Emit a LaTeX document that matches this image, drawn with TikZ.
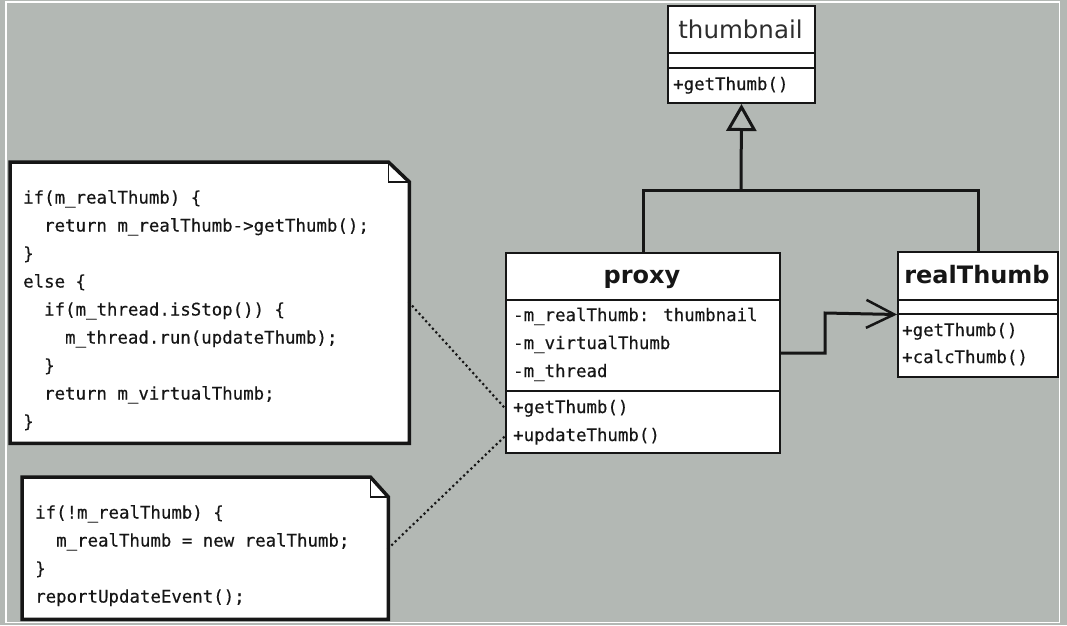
\documentclass[tikz,border=0pt]{standalone}
\usepackage{fontspec}
\setmainfont{DejaVu Sans}
\newfontfamily\codefont[FakeBold=0.35]{DejaVu Sans Mono}
\newfontfamily\titlefont{DejaVu Sans}
\usetikzlibrary{arrows.meta}
\definecolor{bg}{RGB}{179,184,180}
\definecolor{ink}{RGB}{22,22,22}
\newcommand{\cind}{\phantom{xx}}
\tikzset{
  classbox/.style={draw=ink, fill=white, line width=2pt, inner sep=0pt, anchor=north west},
  sepline/.style={draw=ink, line width=2pt},
  classtitle/.style={font=\titlefont\fontsize{24.5}{28}\selectfont, text=ink, inner sep=0pt, anchor=base},
  boldtitle/.style={classtitle, font=\titlefont\bfseries\fontsize{24}{28}\selectfont},
  code/.style={font=\codefont\fontsize{17.4}{28}\selectfont, text=ink, inner sep=0pt, align=left},
  conn/.style={draw=ink, line width=3pt},
  noteframe/.style={draw=ink, fill=white, line width=3.5pt, line join=miter},
  foldline/.style={draw=ink, line width=1.2pt},
  notebox/.style={inner sep=0pt, anchor=north west},
  dotline/.style={draw=ink, line width=3pt, line cap=round, dash pattern=on 0pt off 5pt},
}
\begin{document}
\begin{tikzpicture}[x=1pt,y=-1pt]
\fill[bg] (0,0) rectangle (1067,625);
\useasboundingbox (0,0) rectangle (1067,625);
\draw[white, line width=1.5pt] (6,2) rectangle (1059.5,622.5);

% ---------- thumbnail ----------
\node[classbox, minimum width=147, minimum height=97] (thumb) at (667,5) {};
\draw[sepline] (thumb.west |- 0,53) -- (thumb.east |- 0,53);
\draw[sepline] (thumb.west |- 0,68) -- (thumb.east |- 0,68);
\node[classtitle, text=ink!90] (thumbT) at (740.5,38) {thumbnail};
\node[code, anchor=base west] (thumbM1) at (673,90) {+getThumb()};

% ---------- proxy ----------
\node[classbox, minimum width=274, minimum height=200] (proxy) at (505,252) {};
\draw[sepline] (proxy.west |- 0,300) -- (proxy.east |- 0,300);
\draw[sepline] (proxy.west |- 0,391) -- (proxy.east |- 0,391);
\node[boldtitle] (proxyT) at (642,283) {proxy};
\node[code, anchor=base west] (pa1) at (513,321) {-m\_realThumb: thumbnail};
\node[code, anchor=base west] (pa2) at (513,349) {-m\_virtualThumb};
\node[code, anchor=base west] (pa3) at (513,377) {-m\_thread};
\node[code, anchor=base west] (pm1) at (513,413) {+getThumb()};
\node[code, anchor=base west] (pm2) at (513,441) {+updateThumb()};

% ---------- realThumb ----------
\node[classbox, minimum width=160, minimum height=125] (real) at (897,251) {};
\draw[sepline] (real.west |- 0,300) -- (real.east |- 0,300);
\draw[sepline] (real.west |- 0,314) -- (real.east |- 0,314);
\node[boldtitle] (realT) at (977,283) {realThumb};
\node[code, anchor=base west] (rm1) at (902,336) {+getThumb()};
\node[code, anchor=base west] (rm2) at (902,363) {+calcThumb()};

% ---------- generalisation ----------
\coordinate (join) at (741,190);
\draw[conn] (proxy.north) |- (join) -| (real.north);
\draw[conn, -{Triangle[open, length=27pt, width=30pt, line width=3pt]}] (join) -- (thumb.south);

% ---------- association ----------
\coordinate (bend) at (825,313);
\draw[conn, -{Straight Barb[length=28pt, width=28pt, line width=2.5pt]}] (proxy.east) -| (bend) -- (real.west);

% ---------- note 1 ----------
\node[notebox, minimum width=399, minimum height=281] (note1) at (10,162) {};
\draw[noteframe] (note1.north west) -- ([xshift=-21pt]note1.north east) -- ([yshift=-20pt]note1.north east) -- (note1.south east) -- (note1.south west) -- cycle;
\draw[foldline] ([xshift=-21pt]note1.north east) -- ([xshift=-21pt,yshift=-20pt]note1.north east) -- ([yshift=-20pt]note1.north east);
\node[code, anchor=north west] (code1) at (23,190) {if(m\_realThumb) \{\\
\cind return m\_realThumb->getThumb();\\
\}\\
else \{\\
\cind if(m\_thread.isStop()) \{\\
\cind\cind m\_thread.run(updateThumb);\\
\cind \}\\
\cind return m\_virtualThumb;\\
\}};

% ---------- note 2 ----------
\node[notebox, minimum width=366, minimum height=142] (note2) at (22,477) {};
\draw[noteframe] (note2.north west) -- ([xshift=-18pt]note2.north east) -- ([yshift=-20pt]note2.north east) -- (note2.south east) -- (note2.south west) -- cycle;
\draw[foldline] ([xshift=-18pt]note2.north east) -- ([xshift=-18pt,yshift=-20pt]note2.north east) -- ([yshift=-20pt]note2.north east);
\node[code, anchor=north west] (code2) at (35,505) {if(!m\_realThumb) \{\\
\cind m\_realThumb = new realThumb;\\
\}\\
reportUpdateEvent();};

% ---------- note links ----------
\draw[dotline] (note1.east) -- (proxy.west |- pm1);
\draw[dotline] (note2.east) -- (proxy.west |- pm2);
\end{tikzpicture}
\end{document}
